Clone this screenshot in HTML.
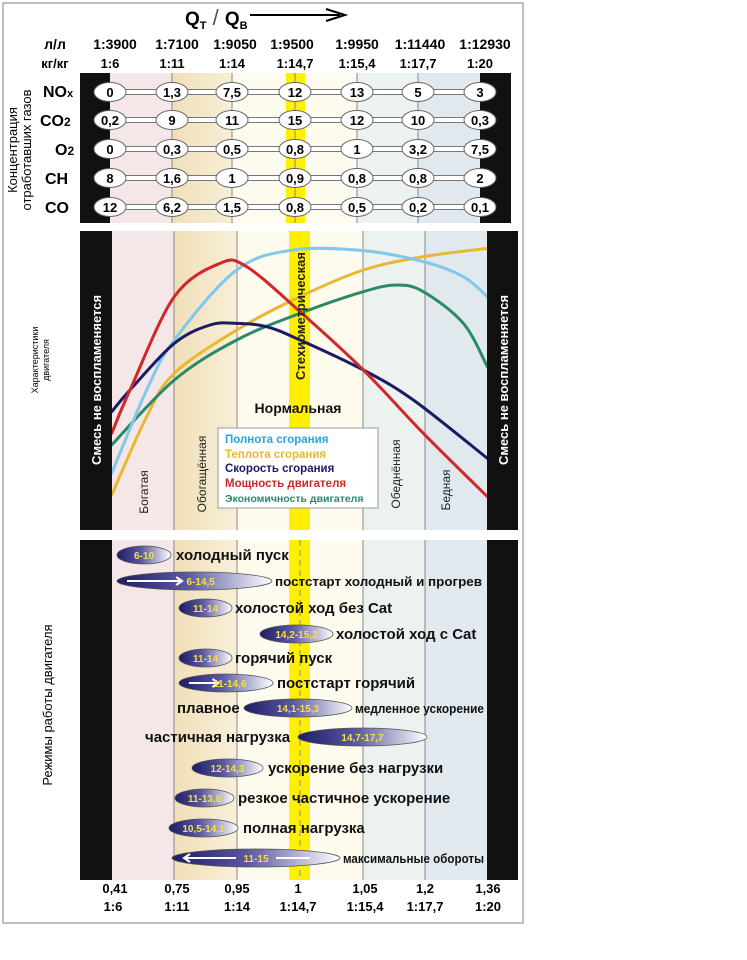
<!DOCTYPE html>
<html><head><meta charset="utf-8"><style>
html,body{margin:0;padding:0;background:#fff;}
svg{display:block;font-family:"Liberation Sans",Arial,sans-serif;font-weight:bold;}
</style></head><body>
<svg id="s" width="747" height="960" viewBox="0 0 747 960" xmlns="http://www.w3.org/2000/svg">
<defs>
<linearGradient id="tan" x1="0" x2="1"><stop offset="0" stop-color="#f0dfb8"/><stop offset="1" stop-color="#f8efd8"/></linearGradient>
<linearGradient id="ell" x1="0" x2="1"><stop offset="0" stop-color="#1e1c66"/><stop offset="0.45" stop-color="#5a58a0"/><stop offset="1" stop-color="#ffffff"/></linearGradient>
</defs>
<rect x="3" y="3" width="520" height="920" fill="#fff" stroke="#aaa" stroke-width="1.5"/>
<text x="185" y="25" font-size="19">Q<tspan font-size="11" dy="4">T</tspan><tspan dy="-4" font-weight="normal" font-size="22" fill="#555"> / </tspan>Q<tspan font-size="11" dy="4">B</tspan></text>
<line x1="250" y1="15" x2="340" y2="15" stroke="#000" stroke-width="2"/>
<path d="M326 9 L345 15 L326 21" fill="none" stroke="#000" stroke-width="2"/>
<g font-size="14" text-anchor="middle">
<text x="55" y="49">л/л</text><text x="55" y="68" font-size="13">кг/кг</text>
<text x="115" y="49">1:3900</text><text x="177" y="49">1:7100</text><text x="235" y="49">1:9050</text><text x="292" y="49">1:9500</text><text x="357" y="49">1:9950</text><text x="420" y="49">1:11440</text><text x="485" y="49">1:12930</text>
<text x="110" y="68" font-size="13">1:6</text><text x="172" y="68" font-size="13">1:11</text><text x="232" y="68" font-size="13">1:14</text><text x="295" y="68" font-size="13">1:14,7</text><text x="357" y="68" font-size="13">1:15,4</text><text x="418" y="68" font-size="13">1:17,7</text><text x="480" y="68" font-size="13">1:20</text>
</g>
<g>
<rect x="80" y="73" width="431" height="150" fill="#fdfaee"/>
<rect x="110" y="73" width="62" height="150" fill="#f5e6e8"/>
<rect x="172" y="73" width="60" height="150" fill="url(#tan)"/>
<rect x="357" y="73" width="61" height="150" fill="#ebf2f0"/>
<rect x="418" y="73" width="62" height="150" fill="#e1e9ef"/>
<rect x="286" y="73" width="19" height="150" fill="#ffef00"/>
<rect x="80" y="73" width="30" height="150" fill="#111"/>
<rect x="480" y="73" width="31" height="150" fill="#111"/>
<g stroke="#888" stroke-width="1"><line x1="172" y1="73" x2="172" y2="223"/><line x1="232" y1="73" x2="232" y2="223"/><line x1="295" y1="73" x2="295" y2="223"/><line x1="357" y1="73" x2="357" y2="223"/><line x1="418" y1="73" x2="418" y2="223"/></g>
<g id="rows"></g>
</g>
<g font-size="16">
<text x="43" y="97">NO<tspan font-size="11">x</tspan></text>
<text x="40" y="126">CO<tspan font-size="12">2</tspan></text>
<text x="55" y="155">O<tspan font-size="12">2</tspan></text>
<text x="45" y="184">CH</text>
<text x="45" y="213">CO</text>
</g>
<text transform="translate(17,150) rotate(-90)" font-size="13" text-anchor="middle" font-weight="normal">Концентрация</text>
<text transform="translate(31,150) rotate(-90)" font-size="13" text-anchor="middle" font-weight="normal">отработавших газов</text>
<rect x="80" y="231" width="438" height="299" fill="#fdfaee"/>
<rect x="112" y="231" width="62" height="299" fill="#f5e6e8"/>
<rect x="174" y="231" width="63" height="299" fill="url(#tan)"/>
<rect x="363" y="231" width="62" height="299" fill="#ebf2f0"/>
<rect x="425" y="231" width="62" height="299" fill="#e1e9ef"/>
<rect x="289" y="231" width="21" height="299" fill="#ffef00"/>
<g stroke="#888"><line x1="174" y1="231" x2="174" y2="530"/><line x1="237" y1="231" x2="237" y2="530"/><line x1="363" y1="231" x2="363" y2="530"/><line x1="425" y1="231" x2="425" y2="530"/></g>
<g id="curves" fill="none" stroke-width="3" stroke-linecap="round"></g>
<rect x="80" y="231" width="32" height="299" fill="#111"/>
<rect x="487" y="231" width="31" height="299" fill="#111"/>
<text transform="translate(101,380) rotate(-90)" font-size="13" fill="#fff" text-anchor="middle">Смесь не воспламеняется</text>
<text transform="translate(508,380) rotate(-90)" font-size="13" fill="#fff" text-anchor="middle">Смесь не воспламеняется</text>
<text transform="translate(305,316) rotate(-90)" font-size="13" fill="#222" text-anchor="middle">Стехиометрическая</text>
<text x="298" y="413" font-size="14" text-anchor="middle" fill="#111">Нормальная</text>
<g font-size="12" font-weight="normal" text-anchor="middle" fill="#222">
<text transform="translate(148,492) rotate(-90)">Богатая</text>
<text transform="translate(206,474) rotate(-90)">Обогащённая</text>
<text transform="translate(400,474) rotate(-90)">Обеднённая</text>
<text transform="translate(450,490) rotate(-90)">Бедная</text>
</g>
<rect x="218" y="428" width="160" height="80" fill="#fff" stroke="#999"/>
<g font-size="11.5">
<text x="225" y="443" fill="#29a3db">Полнота сгорания</text>
<text x="225" y="458" fill="#e8b830">Теплота сгорания</text>
<text x="225" y="472" fill="#1c1a66">Скорость сгорания</text>
<text x="225" y="487" fill="#d02828">Мощность двигателя</text>
<text x="225" y="502" fill="#2a8a68" font-size="10.5">Экономичность двигателя</text>
</g>
<text transform="translate(38,360) rotate(-90)" font-size="9" text-anchor="middle" font-weight="normal">Характеристики</text>
<text transform="translate(49,360) rotate(-90)" font-size="9" text-anchor="middle" font-weight="normal">двигателя</text>
<rect x="80" y="540" width="438" height="340" fill="#fdfaee"/>
<rect x="112" y="540" width="62" height="340" fill="#f5e6e8"/>
<rect x="174" y="540" width="63" height="340" fill="url(#tan)"/>
<rect x="363" y="540" width="62" height="340" fill="#ebf2f0"/>
<rect x="425" y="540" width="62" height="340" fill="#e1e9ef"/>
<rect x="289" y="540" width="21" height="340" fill="#ffef00"/>
<g stroke="#888"><line x1="174" y1="540" x2="174" y2="880"/><line x1="237" y1="540" x2="237" y2="880"/><line x1="363" y1="540" x2="363" y2="880"/><line x1="425" y1="540" x2="425" y2="880"/><line x1="300" y1="540" x2="300" y2="880" stroke-dasharray="6 4"/></g>
<rect x="80" y="540" width="32" height="340" fill="#111"/>
<rect x="487" y="540" width="31" height="340" fill="#111"/>
<g id="modes"></g>
<text transform="translate(52,705) rotate(-90)" font-size="13" text-anchor="middle" font-weight="normal">Режимы работы  двигателя</text>
<g font-size="13" text-anchor="middle">
<text x="115" y="893">0,41</text><text x="177" y="893">0,75</text><text x="237" y="893">0,95</text><text x="298" y="893">1</text><text x="365" y="893">1,05</text><text x="425" y="893">1,2</text><text x="488" y="893">1,36</text>
<text x="113" y="911">1:6</text><text x="177" y="911">1:11</text><text x="237" y="911">1:14</text><text x="298" y="911">1:14,7</text><text x="365" y="911">1:15,4</text><text x="425" y="911">1:17,7</text><text x="488" y="911">1:20</text>
</g>
</svg>
<script>
var NS="http://www.w3.org/2000/svg";
function el(p,t,a,txt){var e=document.createElementNS(NS,t);for(var k in a)e.setAttribute(k,a[k]);if(txt!=null)e.textContent=txt;p.appendChild(e);return e;}
var xs=[110,172,232,295,357,418,480],ys=[92,120,149,178,207];
var vals=[["0","1,3","7,5","12","13","5","3"],["0,2","9","11","15","12","10","0,3"],["0","0,3","0,5","0,8","1","3,2","7,5"],["8","1,6","1","0,9","0,8","0,8","2"],["12","6,2","1,5","0,8","0,5","0,2","0,1"]];
var R=document.getElementById("rows");
ys.forEach(function(y,i){
 el(R,"rect",{x:110,y:y-2.5,width:370,height:5,fill:"#fff",stroke:"#777","stroke-width":1});
 xs.forEach(function(x,j){
  el(R,"ellipse",{cx:x,cy:y,rx:16,ry:9.5,fill:"#fff",stroke:"#666","stroke-width":1});
  el(R,"text",{x:x,y:y+5,"font-size":13,"text-anchor":"middle"},vals[i][j]);
 });
});
function P(a){return a.map(function(p){return [80+p[0]/3,230+p[1]/3];});}
function cr(pts){var d="M"+pts[0][0]+" "+pts[0][1];for(var i=0;i<pts.length-1;i++){var p0=pts[i-1]||pts[i],p1=pts[i],p2=pts[i+1],p3=pts[i+2]||p2;
 d+=" C"+(p1[0]+(p2[0]-p0[0])/6)+" "+(p1[1]+(p2[1]-p0[1])/6)+" "+(p2[0]-(p3[0]-p1[0])/6)+" "+(p2[1]-(p3[1]-p1[1])/6)+" "+p2[0]+" "+p2[1];}return d;}
var C=document.getElementById("curves");
var cv=[
["#e8b830",[[95,795],[200,560],[283,430],[470,300],[660,200],[850,120],[1030,80],[1222,55]]],
["#2a8a68",[[95,645],[283,450],[470,330],[660,250],[850,185],[950,165],[1030,185],[1150,280],[1222,410]]],
["#80c8ec",[[95,730],[200,480],[283,330],[470,120],[640,60],[850,62],[1030,95],[1150,140],[1222,200]]],
["#1c1a66",[[95,545],[150,480],[283,340],[390,285],[470,280],[560,290],[660,330],[850,420],[1000,510],[1222,685]]],
["#d02828",[[95,610],[150,480],[283,200],[420,100],[500,110],[660,245],[850,420],[1030,610],[1222,800]]]];
cv.forEach(function(c){el(C,"path",{d:cr(P(c[1])),stroke:c[0]});});
var M=document.getElementById("modes");
var md=[[555,117,171,"6-10","холодный пуск",176,15,0,null,0],
[581,117,272,"6-14,5","постстарт холодный и прогрев",275,12.6,1,null,207],
[608,179,232,"11-14","холостой ход без Cat",235,15,0,null,0],
[634,260,333,"14,2-15,2","холостой ход с Cat",336,15,0,null,0],
[658,179,232,"11-14","горячий пуск",235,15,0,null,0],
[683,179,273,"11-14,6","постстарт горячий",277,15,1,null,0],
[708,244,352,"14,1-15,3","медленное ускорение",355,12.6,0,["плавное",177],129],
[737,298,427,"14,7-17,7","",0,15,0,["частичная нагрузка",145],0],
[768,192,263,"12-14,3","ускорение без нагрузки",268,15,0,null,0],
[798,175,234,"11-13,6","резкое частичное ускорение",238,15,0,null,0],
[828,169,238,"10,5-14,1","полная нагрузка",243,15,0,null,0],
[858,172,340,"11-15","максимальные обороты",343,12.6,-1,null,141]];
md.forEach(function(m){
 var y=m[0],cx=(m[1]+m[2])/2,rx=(m[2]-m[1])/2;
 el(M,"ellipse",{cx:cx,cy:y,rx:rx,ry:9,fill:"url(#ell)",stroke:"#555","stroke-width":0.8});
 var tx=cx;
 if(m[7]==1){var ae=m[1]+(m[2]-m[1])*0.42;el(M,"path",{d:"M"+(m[1]+10)+" "+y+" L"+ae+" "+y+" M"+(ae-6)+" "+(y-4)+" L"+ae+" "+y+" L"+(ae-6)+" "+(y+4),stroke:"#fff","stroke-width":2,fill:"none"});tx=ae+(m[2]-m[1])*0.12;}
 if(m[7]==-1){el(M,"path",{d:"M"+(m[1]+12)+" "+y+" L"+(cx-20)+" "+y+" M"+(cx+20)+" "+y+" L"+(m[2]-30)+" "+y+" M"+(m[1]+18)+" "+(y-4)+" L"+(m[1]+12)+" "+y+" L"+(m[1]+18)+" "+(y+4),stroke:"#fff","stroke-width":2,fill:"none"});}
 el(M,"text",{x:tx,y:y+4,"font-size":10,"text-anchor":"middle",fill:"#f5e040"},m[3]);
 if(m[4]){var a={x:m[5],y:y+5,"font-size":m[6],fill:"#111"};if(m[9]){a.textLength=m[9];a.lengthAdjust="spacingAndGlyphs";}el(M,"text",a,m[4]);}
 if(m[8])el(M,"text",{x:m[8][1],y:y+5,"font-size":15,fill:"#111"},m[8][0]);
});
</script>
</body></html>
